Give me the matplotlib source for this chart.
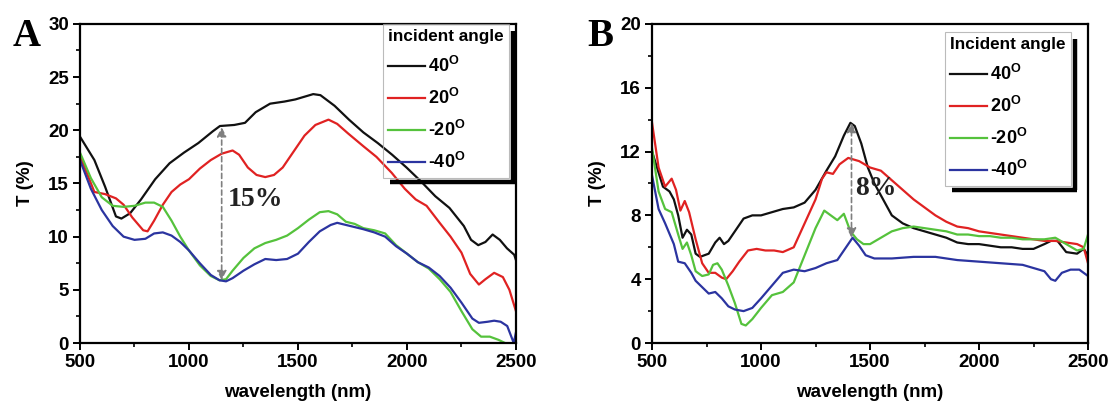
import matplotlib
matplotlib.use("Agg")
import matplotlib.pyplot as plt
from matplotlib.lines import Line2D
from matplotlib.ticker import MultipleLocator

plt.rcParams['font.family'] = ['Liberation Sans', 'DejaVu Sans']
plt.rcParams['font.weight'] = 'bold'
plt.rcParams['axes.labelweight'] = 'bold'
plt.rcParams['mathtext.fontset'] = 'custom'
plt.rcParams['mathtext.rm'] = 'Liberation Sans:bold'
plt.rcParams['mathtext.bf'] = 'Liberation Sans:bold'

# ---- panel A data ----
a_wl_40 = [500, 566, 615, 665, 690, 730, 780, 845, 911, 977, 1043, 1109, 1142, 1208, 1257, 1306,
           1372, 1438, 1488, 1570, 1603, 1668, 1734, 1800, 1866, 1932, 1998, 2064, 2130, 2195,
           2261, 2294, 2327, 2360, 2393, 2426, 2459, 2492, 2500]
a_t_40 = [19.4, 17.2, 14.7, 11.9, 11.7, 12.2, 13.5, 15.4, 16.9, 17.9, 18.8, 19.9, 20.4, 20.5, 20.7,
          21.7, 22.5, 22.7, 22.9, 23.4, 23.3, 22.3, 21.0, 19.8, 18.8, 17.7, 16.5, 15.2, 13.8, 12.7,
          11.0, 9.7, 9.2, 9.5, 10.2, 9.7, 8.9, 8.3, 7.8]
a_wl_20 = [500, 566, 615, 665, 700, 740, 790, 810, 840, 880, 920, 960, 1000, 1050, 1100, 1150,
           1200, 1230, 1270, 1310, 1350, 1390, 1430, 1480, 1530, 1580, 1640, 1680, 1730, 1800,
           1860, 1930, 1990, 2040, 2090, 2150, 2200, 2250, 2290, 2330, 2360, 2400, 2440, 2470, 2500]
a_t_20 = [17.6, 14.2, 14.0, 13.6, 13.0, 11.8, 10.6, 10.5, 11.5, 13.0, 14.2, 14.9, 15.4, 16.4,
          17.2, 17.8, 18.1, 17.7, 16.5, 15.8, 15.6, 15.8, 16.5, 18.0, 19.5, 20.5, 21.0, 20.6,
          19.7, 18.5, 17.5, 16.0, 14.5, 13.5, 12.9, 11.3, 10.0, 8.5, 6.5, 5.5, 6.0, 6.6, 6.2, 5.0, 3.0]
a_wl_m20 = [500, 550, 600, 650, 700, 750, 800, 840, 880, 920, 960, 1000, 1050, 1100, 1140, 1170,
            1200, 1250, 1300, 1350, 1400, 1450, 1500, 1550, 1600, 1640, 1680, 1720, 1760, 1800,
            1850, 1900, 1950, 2000, 2050, 2100, 2150, 2200, 2250, 2300, 2340, 2380, 2420, 2450]
a_t_m20 = [17.9, 15.5, 13.7, 12.9, 12.8, 12.9, 13.2, 13.2, 12.8, 11.5, 10.0, 8.7, 7.3, 6.3, 5.9,
           6.0, 6.8, 8.0, 8.9, 9.4, 9.7, 10.1, 10.8, 11.6, 12.3, 12.4, 12.1, 11.4, 11.2, 10.8,
           10.6, 10.3, 9.2, 8.4, 7.6, 7.0, 6.0, 4.8, 3.0, 1.3, 0.6, 0.6, 0.3, 0.0]
a_wl_m40 = [500, 550, 600, 650, 700, 750, 800, 840, 880, 920, 960, 1000, 1050, 1100, 1140, 1170,
            1200, 1250, 1300, 1350, 1400, 1450, 1500, 1550, 1600, 1650, 1680, 1720, 1760, 1800,
            1850, 1900, 1950, 2000, 2050, 2100, 2150, 2200, 2250, 2300, 2330, 2370, 2400, 2430,
            2460, 2490, 2500]
a_t_m40 = [17.2, 14.5, 12.5, 11.0, 10.0, 9.7, 9.8, 10.3, 10.4, 10.1, 9.5, 8.7, 7.5, 6.4, 5.9, 5.8,
           6.1, 6.8, 7.4, 7.9, 7.8, 7.9, 8.4, 9.5, 10.5, 11.1, 11.3, 11.1, 10.9, 10.7, 10.4, 10.0,
           9.1, 8.4, 7.6, 7.1, 6.3, 5.2, 3.8, 2.3, 1.9, 2.0, 2.1, 2.0, 1.6, 0.0, 1.0]

# ---- panel B data ----
b_wl_40 = [500, 550, 580, 600, 620, 640, 660, 680, 700, 720, 760, 790, 810, 830, 850, 880, 920,
           960, 1000, 1050, 1100, 1150, 1200, 1250, 1300, 1340, 1380, 1410, 1430, 1460, 1490,
           1520, 1560, 1600, 1650, 1700, 1750, 1800, 1850, 1900, 1950, 2000, 2050, 2100, 2150,
           2200, 2250, 2300, 2330, 2360, 2400, 2450, 2480, 2500]
b_t_40 = [12.0, 9.8, 9.5, 9.0, 8.0, 6.6, 7.1, 6.8, 5.6, 5.4, 5.6, 6.3, 6.6, 6.2, 6.4, 7.0, 7.8,
          8.0, 8.0, 8.2, 8.4, 8.5, 8.8, 9.6, 10.8, 11.7, 13.0, 13.8, 13.6, 12.5, 11.0, 10.0, 9.0,
          8.0, 7.5, 7.2, 7.0, 6.8, 6.6, 6.3, 6.2, 6.2, 6.1, 6.0, 6.0, 5.9, 5.9, 6.2, 6.4, 6.4,
          5.7, 5.6, 5.9, 5.5]
b_wl_20 = [500, 530, 560, 590, 610, 630, 650, 670, 700, 730, 760, 790, 820, 840, 870, 900, 940,
           980, 1020, 1060, 1100, 1150, 1200, 1250, 1280, 1300, 1330, 1360, 1400, 1450, 1500,
           1550, 1600, 1650, 1700, 1750, 1800, 1850, 1900, 1950, 2000, 2050, 2100, 2150, 2200,
           2250, 2300, 2350, 2400, 2450, 2480, 2500]
b_t_20 = [13.8, 11.0, 9.8, 10.3, 9.6, 8.3, 8.9, 8.2, 6.5, 5.0, 4.4, 4.4, 4.1, 4.0, 4.5, 5.1, 5.8,
          5.9, 5.8, 5.8, 5.7, 6.0, 7.5, 9.0, 10.3, 10.7, 10.6, 11.2, 11.6, 11.4, 11.0, 10.8, 10.2,
          9.6, 9.0, 8.5, 8.0, 7.6, 7.3, 7.2, 7.0, 6.9, 6.8, 6.7, 6.6, 6.5, 6.4, 6.4, 6.3, 6.2,
          6.0, 5.0]
b_wl_m20 = [500, 530, 560, 590, 620, 640, 660, 680, 700, 730, 760, 780, 800, 820, 850, 880, 910,
            930, 960, 1000, 1050, 1100, 1150, 1200, 1250, 1290, 1320, 1350, 1380, 1410, 1440,
            1470, 1500, 1550, 1600, 1650, 1700, 1750, 1800, 1850, 1900, 1950, 2000, 2050, 2100,
            2150, 2200, 2250, 2300, 2350, 2400, 2450, 2480, 2500]
b_t_m20 = [12.2, 9.5, 8.4, 8.2, 6.8, 5.9, 6.3, 5.5, 4.5, 4.2, 4.3, 4.9, 5.0, 4.6, 3.6, 2.5, 1.2,
           1.1, 1.5, 2.2, 3.0, 3.2, 3.8, 5.5, 7.2, 8.3, 8.0, 7.7, 8.1, 7.0, 6.5, 6.2, 6.2, 6.6,
           7.0, 7.2, 7.3, 7.2, 7.1, 7.0, 6.8, 6.8, 6.7, 6.7, 6.6, 6.6, 6.5, 6.5, 6.5, 6.6, 6.2,
           5.8, 5.9, 6.8]
b_wl_m40 = [500, 530, 560, 600, 620, 650, 680, 700, 730, 760, 790, 820, 850, 880, 920, 960, 1000,
            1050, 1100, 1150, 1200, 1250, 1300, 1350, 1390, 1420, 1450, 1480, 1520, 1600, 1700,
            1800, 1900, 2000, 2100, 2200, 2300, 2330, 2350, 2380, 2420, 2460, 2500]
b_t_m40 = [10.5, 8.4, 7.5, 6.2, 5.1, 5.0, 4.4, 3.9, 3.5, 3.1, 3.2, 2.8, 2.3, 2.1, 2.0, 2.2, 2.8,
           3.6, 4.4, 4.6, 4.5, 4.7, 5.0, 5.2, 6.0, 6.6, 6.1, 5.5, 5.3, 5.3, 5.4, 5.4, 5.2, 5.1,
           5.0, 4.9, 4.5, 4.0, 3.9, 4.4, 4.6, 4.6, 4.2]

angle_labels = ['40$^{\\mathbf{O}}$', '20$^{\\mathbf{O}}$', '-20$^{\\mathbf{O}}$', '-40$^{\\mathbf{O}}$']
colors = ['#111111', '#e02222', '#55c23c', '#2b34a0']

# arrows: (wavelength, T top, T bottom)
a_arrow = (1150, 20.3, 5.9)
b_arrow = (1415, 13.8, 6.6)


def draw_panel(ax, curves, ylim, ystep, yminor, arrow, pct, pct_xy, leg_title, leg_anchor):
    for (wl, t), c, lab in zip(curves, colors, angle_labels):
        ax.plot(wl, t, color=c, lw=1.6, label=lab)
    ax.set_xlim(500, 2500)
    ax.set_ylim(*ylim)
    ax.xaxis.set_major_locator(MultipleLocator(500))
    ax.xaxis.set_minor_locator(MultipleLocator(250))
    ax.yaxis.set_major_locator(MultipleLocator(ystep))
    ax.yaxis.set_minor_locator(MultipleLocator(yminor))
    ax.tick_params(which='major', direction='out', length=5, width=1.4, labelsize=13.5, pad=3)
    ax.tick_params(which='minor', direction='out', length=3, width=1.2)
    for s in ax.spines.values():
        s.set_linewidth(1.6)
    ax.set_xlabel('wavelength (nm)', fontsize=13.5, labelpad=9)
    ax.set_ylabel('T (%)', fontsize=13.5, labelpad=10)

    # dashed double arrow marking the transmission difference
    x, top, bot = arrow
    ax.annotate('', xy=(x, top), xytext=(x, bot),
                arrowprops=dict(arrowstyle='<|-|>', color='#7f7f7f', lw=1.2,
                                linestyle=(0, (3, 2)), mutation_scale=14,
                                shrinkA=0, shrinkB=0))
    ax.text(pct_xy[0], pct_xy[1], pct, family=['Liberation Serif'], weight='bold',
            fontsize=20, va='center', ha='left', color='#222222')

    leg = ax.legend(loc='upper left', bbox_to_anchor=leg_anchor, borderaxespad=0,
                    title=leg_title, alignment='left', fontsize=13, handlelength=2.0,
                    handletextpad=0.2, labelspacing=0.66, fancybox=False, borderpad=0.3,
                    title_fontproperties={'weight': 'bold', 'size': 12.3})
    fr = leg.get_frame()
    fr.set_facecolor('none')
    fr.set_edgecolor('#aaaaaa')
    fr.set_linewidth(0.8)
    return leg


fig = plt.figure(figsize=(11.11, 4.05), dpi=100)
ax_a = fig.add_axes([0.072, 0.153, 0.3924, 0.788])
ax_b = fig.add_axes([0.5869, 0.153, 0.3924, 0.788])

leg_a = draw_panel(ax_a,
                   [(a_wl_40, a_t_40), (a_wl_20, a_t_20), (a_wl_m20, a_t_m20), (a_wl_m40, a_t_m40)],
                   (0, 30), 5, 2.5, a_arrow, '15%', (1180, 13.5), 'incident angle', (0.695, 1.0))
leg_b = draw_panel(ax_b,
                   [(b_wl_40, b_t_40), (b_wl_20, b_t_20), (b_wl_m20, b_t_m20), (b_wl_m40, b_t_m40)],
                   (0, 20), 4, 2, b_arrow, '8%', (1430, 9.7), 'Incident angle', (0.672, 0.975))

fig.text(13 / 1111, 1 - 46 / 405, 'A', family=['Liberation Serif'], weight='bold', fontsize=28)
fig.text(587 / 1111, 1 - 46 / 405, 'B', family=['Liberation Serif'], weight='bold', fontsize=28)

# thick black drop shadow on the right and bottom of each legend box
fig.canvas.draw()
renderer = fig.canvas.get_renderer()
W, H = fig.bbox.width, fig.bbox.height
for leg in (leg_a, leg_b):
    bb = leg.get_frame().get_window_extent(renderer)
    off = 4
    fig.add_artist(Line2D([(bb.x1 + off) / W] * 2, [(bb.y0 - off) / H, (bb.y1 - 7) / H],
                          color='black', lw=3.2, solid_capstyle='butt'))
    fig.add_artist(Line2D([(bb.x0 + 7) / W, (bb.x1 + off + 1.5) / W], [(bb.y0 - off) / H] * 2,
                          color='black', lw=3.2, solid_capstyle='butt'))

fig.savefig('out.png', dpi=100)
